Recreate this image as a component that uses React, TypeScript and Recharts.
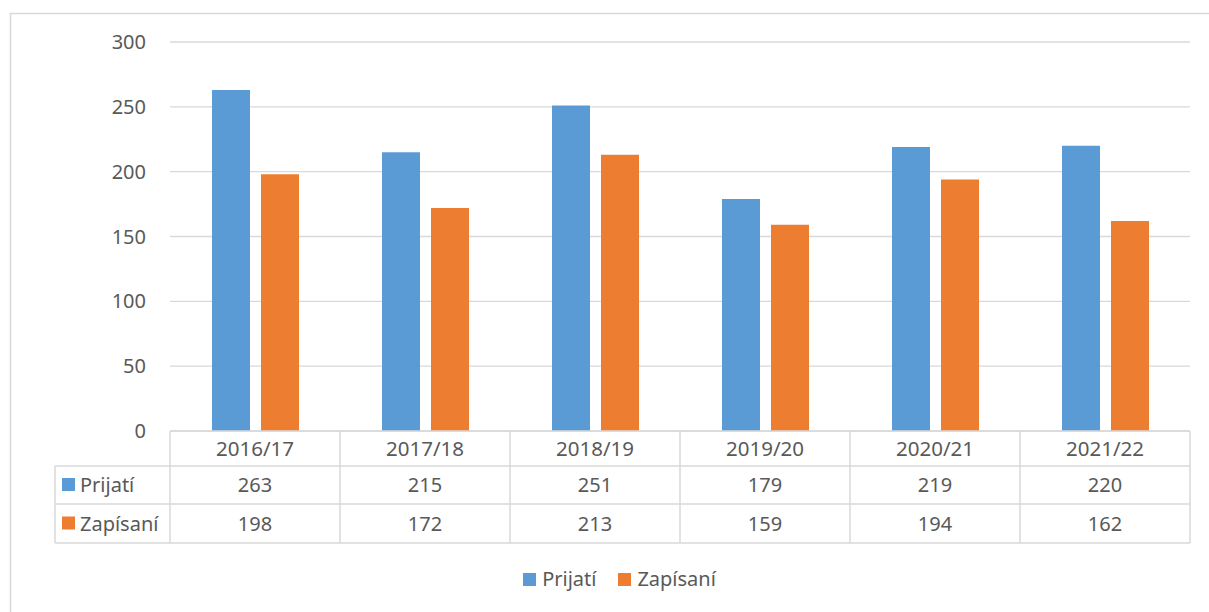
import React from "react";
import { BarChart, Bar, XAxis, YAxis, CartesianGrid, Legend } from "recharts";

const years = ["2016/17", "2017/18", "2018/19", "2019/20", "2020/21", "2021/22"];
const prijati = [263, 215, 251, 179, 219, 220];
const zapisani = [198, 172, 213, 159, 194, 162];
const yTicks = [0, 50, 100, 150, 200, 250, 300];

const series = [
  { key: "prijati", name: "Prijatí", color: "#5b9bd5" },
  { key: "zapisani", name: "Zapísaní", color: "#ed7d31" },
];

const data = years.map((y, i) => ({ year: y, prijati: prijati[i], zapisani: zapisani[i] }));

const W = 1209;
const H = 612;
const PLOT_LEFT = 170;
const PLOT_RIGHT = 1190;
const CELL_W = (PLOT_RIGHT - PLOT_LEFT) / years.length;
const TABLE_LEFT = 55;
const ROW_EDGES = [0, 35, 73, 112];
const LINE = "#d9d9d9";
const TEXT = "#595959";
const FONT = "'Noto Sans', sans-serif";

function TableTick(props: any) {
  const { x, y, payload, index } = props;
  const half = CELL_W / 2;
  const rowMid = (r: number) => y + (ROW_EDGES[r] + ROW_EDGES[r + 1]) / 2;
  const values = [prijati[index], zapisani[index]];
  return (
    <g>
      {index === 0 && (
        <g>
          <line x1={x - half} y1={y} x2={x - half} y2={y + ROW_EDGES[3]} stroke={LINE} strokeWidth={1.5} />
          <line x1={TABLE_LEFT} y1={y + ROW_EDGES[1]} x2={TABLE_LEFT} y2={y + ROW_EDGES[3]} stroke={LINE} strokeWidth={1.5} />
          {[1, 2, 3].map((r) => (
            <line key={r} x1={TABLE_LEFT} y1={y + ROW_EDGES[r]} x2={x - half} y2={y + ROW_EDGES[r]} stroke={LINE} strokeWidth={1.5} />
          ))}
          {series.map((s, r) => (
            <g key={s.key}>
              <rect x={TABLE_LEFT + 7} y={rowMid(r + 1) - 7} width={13} height={13} fill={s.color} />
              <text x={TABLE_LEFT + 25} y={rowMid(r + 1)} dy="0.36em" fill={TEXT} fontSize={20} fontFamily={FONT}>
                {s.name}
              </text>
            </g>
          ))}
        </g>
      )}
      <line x1={x + half} y1={y} x2={x + half} y2={y + ROW_EDGES[3]} stroke={LINE} strokeWidth={1.5} />
      {[1, 2, 3].map((r) => (
        <line key={r} x1={x - half} y1={y + ROW_EDGES[r]} x2={x + half} y2={y + ROW_EDGES[r]} stroke={LINE} strokeWidth={1.5} />
      ))}
      <text x={x} y={rowMid(0)} dy="0.36em" textAnchor="middle" fill={TEXT} fontSize={20.5} fontFamily={FONT}>
        {payload.value}
      </text>
      {values.map((v, r) => (
        <text key={r} x={x} y={rowMid(r + 1)} dy="0.36em" textAnchor="middle" fill={TEXT} fontSize={20} fontFamily={FONT}>
          {v}
        </text>
      ))}
    </g>
  );
}

function LegendContent() {
  return (
    <div style={{ display: "flex", justifyContent: "center", gap: 22, fontFamily: FONT, fontSize: 20, color: TEXT, lineHeight: "26px" }}>
      {series.map((s) => (
        <div key={s.key} style={{ display: "flex", alignItems: "center" }}>
          <span style={{ display: "inline-block", width: 13, height: 13, background: s.color, marginRight: 6 }} />
          {s.name}
        </div>
      ))}
    </div>
  );
}

export default function App() {
  return (
    <div style={{ position: "absolute", left: 0, top: 0, width: W, height: H, background: "#fff", overflow: "hidden" }}>
      <svg width={W} height={H} style={{ position: "absolute", left: 0, top: 0 }}>
        <rect x={10.5} y={13.5} width={W + 20} height={H + 20} fill="none" stroke={LINE} strokeWidth={1.5} />
      </svg>
      <BarChart
        width={W}
        height={H}
        data={data}
        margin={{ top: 42, right: W - PLOT_RIGHT, bottom: 0, left: 0 }}
        barCategoryGap={42}
        barGap={11}
        style={{ position: "absolute", left: 0, top: 0 }}
      >
        <CartesianGrid vertical={false} stroke={LINE} strokeWidth={1.3} />
        <YAxis
          width={PLOT_LEFT}
          domain={[0, 300]}
          ticks={yTicks}
          axisLine={false}
          tickLine={false}
          tickSize={0}
          tickMargin={24}
          tick={{ fill: TEXT, fontSize: 20, fontFamily: FONT }}
        />
        <XAxis
          dataKey="year"
          height={155}
          axisLine={{ stroke: LINE, strokeWidth: 1.5 }}
          tickLine={false}
          tickSize={0}
          tickMargin={0}
          interval={0}
          tick={<TableTick />}
        />
        <Legend
          content={<LegendContent />}
          wrapperStyle={{ position: "absolute", top: 566, left: 15, width: W, bottom: "auto" }}
        />
        {series.map((s) => (
          <Bar key={s.key} dataKey={s.key} name={s.name} fill={s.color} isAnimationActive={false} />
        ))}
      </BarChart>
    </div>
  );
}
